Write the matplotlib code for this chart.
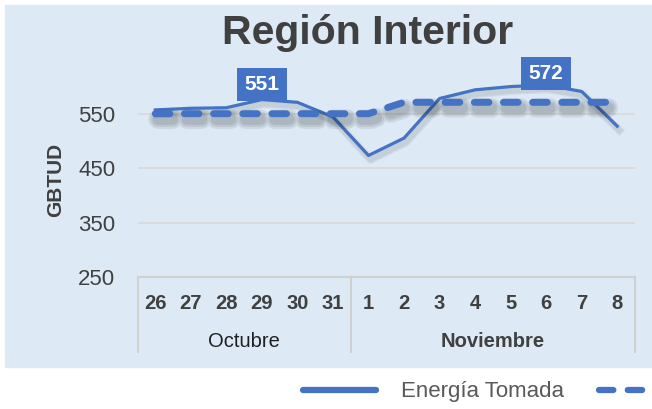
import matplotlib.pyplot as plt
import matplotlib.patheffects as pe
from matplotlib.patches import Rectangle
from matplotlib.lines import Line2D
import matplotlib.transforms as mtransforms

plt.rcParams['font.family'] = ['Liberation Sans', 'DejaVu Sans']

days = ['26', '27', '28', '29', '30', '31', '1', '2', '3', '4', '5', '6', '7', '8']
months = ['Octubre', 'Noviembre']
month_len = [6, 8]
tomada = [558, 561, 562, 577, 572, 545, 474, 506, 579, 595, 601, 604, 592, 528]
promedio = [551, 551, 551, 551, 551, 551, 551, 572, 572, 572, 572, 572, 572, 572]
labels_at = [3, 11]

blue = '#4472C4'
dark = '#404040'

fig = plt.figure(figsize=(6.52, 4.09), dpi=100)
fig.patches.append(Rectangle((5 / 652, 1 - 367 / 409), 1, 362 / 409,
                             transform=fig.transFigure, color='#DDEAF6', zorder=-5))

ax = fig.add_axes([137.5 / 652, 1 - 277 / 409, 497.5 / 652, 217 / 409])
ax.set_facecolor('none')

x = list(range(len(days)))

# blurred shadow faked with a few stacked shadows
shadow_d = [pe.SimpleLineShadow(offset=(2, -4), shadow_color='k', alpha=0.08, linewidth=w)
            for w in (14, 11, 8)] + [pe.Normal()]
shadow_s = [pe.SimpleLineShadow(offset=(1.5, -3), shadow_color='k', alpha=0.06, linewidth=w)
            for w in (6, 4)] + [pe.Normal()]

ax.plot(x, tomada, color=blue, lw=2.3, solid_joinstyle='round', path_effects=shadow_s, zorder=3)
ax.plot(x, promedio, color=blue, lw=5, dashes=(2.1, 2.1), dash_capstyle='round',
        path_effects=shadow_d, zorder=4)

for i in labels_at:
    ax.annotate(str(promedio[i]), (i, promedio[i]), xytext=(0, 29), textcoords='offset pixels',
                ha='center', va='center', color='white', fontsize=15, fontweight='bold',
                bbox=dict(boxstyle='square,pad=0.35', fc=blue, ec='none'), zorder=6)

ax.set_xlim(-0.5, len(days) - 0.5)
ax.set_ylim(250, 650)
ax.set_yticks([250, 350, 450, 550])
ax.tick_params(axis='y', length=0, pad=16, labelsize=16, labelcolor=dark)
ax.set_xticks([])
ax.grid(axis='y', color='#D9D9D9', lw=1.2)
for s in ['top', 'right', 'left']:
    ax.spines[s].set_visible(False)
ax.spines['bottom'].set_color('#D0D0D0')
ax.spines['bottom'].set_linewidth(1.5)

ax.set_ylabel('GBTUD', fontsize=15, fontweight='bold', color=dark)
ax.yaxis.set_label_coords(-0.146, 0.447)

trans = mtransforms.blended_transform_factory(ax.transData, ax.transAxes)
for i, d in enumerate(days):
    ax.text(i, -0.124, d, transform=trans, ha='center', va='center',
            fontsize=14.5, fontweight='bold', color=dark)

start = -0.5
bounds = [start]
for n in month_len:
    bounds.append(bounds[-1] + n)
for b in bounds:
    ax.add_line(Line2D([b, b], [0, -0.346], transform=trans, color='#D0D0D0', lw=1.5, clip_on=False))
for k, m in enumerate(months):
    mid = (bounds[k] + bounds[k + 1]) / 2
    ax.text(mid, -0.295, m, transform=trans, ha='center', va='center', fontsize=14.5,
            color='#202020' if k == 0 else dark, fontweight='normal' if k == 0 else 'bold')

fig.text(368 / 652, 1 - 33 / 409, 'Región Interior', ha='center', va='center',
         fontsize=29.5, fontweight='bold', color=dark)

handles = [Line2D([], [], color=blue, lw=4.5, solid_capstyle='round'),
           Line2D([], [], color=blue, lw=4.5, dashes=(2.3, 2.3), dash_capstyle='round')]
fig.legend(handles, ['Energía Tomada', 'Promedio'], loc='center left',
           bbox_to_anchor=(283 / 652, 1 - 392 / 409), ncol=2, frameon=False,
           fontsize=16, labelcolor='#595959', handlelength=3.3, handletextpad=1.1,
           columnspacing=1.6)

plt.savefig('out.png', dpi=100)
